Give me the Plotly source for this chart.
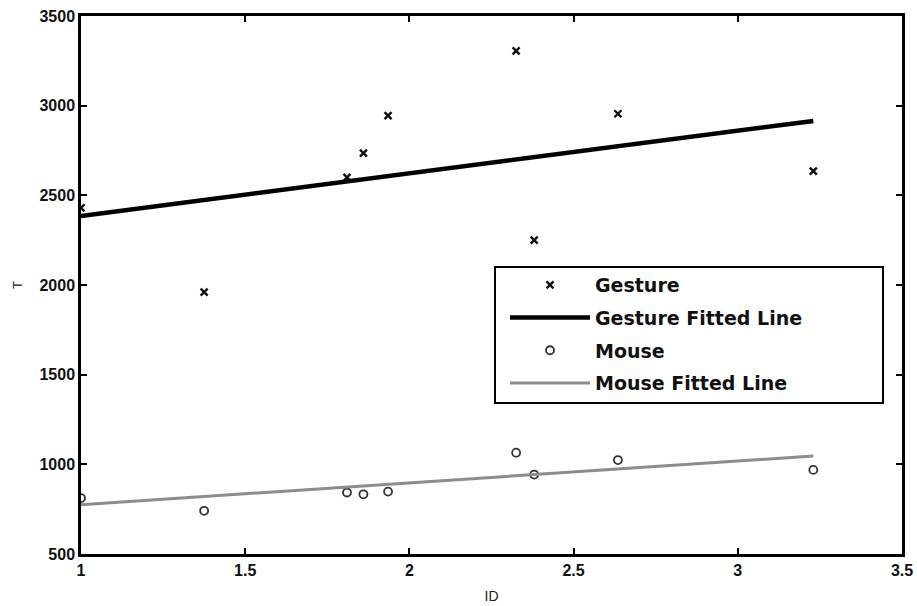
import plotly.graph_objects as go

# ---- data ----
ids = [1.0, 1.375, 1.81, 1.86, 1.935, 2.325, 2.38, 2.635, 3.23]
gesture_t = [2430, 1960, 2600, 2735, 2945, 3305, 2250, 2955, 2635]
mouse_t = [812, 741, 843, 833, 848, 1065, 943, 1024, 969]

fit_ids = [1.0, 3.23]
gesture_fit_t = [2385, 2915]
mouse_fit_t = [775, 1046]

x_ticks = [1, 1.5, 2, 2.5, 3, 3.5]
y_ticks = [500, 1000, 1500, 2000, 2500, 3000, 3500]

fig = go.Figure()
fig.add_trace(go.Scatter(
    x=ids, y=gesture_t, mode="markers", name="Gesture", legendgroup="a",
    marker=dict(symbol="x-thin", size=7, color="#111", line=dict(width=2.4, color="#111")),
))
fig.add_trace(go.Scatter(
    x=fit_ids, y=gesture_fit_t, mode="lines", name="Gesture Fitted Line", legendgroup="b",
    line=dict(color="#000", width=4.5),
))
fig.add_trace(go.Scatter(
    x=ids, y=mouse_t, mode="markers", name="Mouse", legendgroup="c",
    marker=dict(symbol="circle-open", size=8, color="#333", line=dict(width=1.8, color="#333")),
))
fig.add_trace(go.Scatter(
    x=fit_ids, y=mouse_fit_t, mode="lines", name="Mouse Fitted Line", legendgroup="d",
    line=dict(color="#8c8c8c", width=3),
))

W, H = 917, 606
L, R, T, B = 81, 902, 16, 554

def px(v):
    return (v - L) / (R - L)

def py(v):
    return (B - v) / (B - T)

axis_common = dict(
    showgrid=False, zeroline=False, showline=True, linecolor="#000", linewidth=2.5,
    mirror="ticks", ticks="inside", ticklen=6, tickwidth=2, tickcolor="#000",
    automargin=False, ticklabeloverflow="allow",
    tickfont=dict(family="Liberation Sans, Arial", size=16, color="#111", weight="bold"),
)

fig.update_layout(
    width=W, height=H,
    margin=dict(l=L, r=W - R, t=T, b=H - B, pad=0, autoexpand=False),
    paper_bgcolor="#ffffff", plot_bgcolor="#fefefe",
    showlegend=True,
    legend=dict(
        x=px(505), y=py(266), xanchor="left", yanchor="top",
        bgcolor="rgba(0,0,0,0)", borderwidth=0,
        traceorder="grouped", tracegroupgap=5, itemwidth=80,
        font=dict(family="DejaVu Sans", size=19, color="#111", weight="bold"),
    ),
    xaxis=dict(
        range=[1, 3.5], tickvals=x_ticks, ticktext=[str(v) for v in x_ticks],
        title=dict(text="ID", font=dict(family="Liberation Sans, Arial", size=14, color="#222"), standoff=14),
        **axis_common,
    ),
    yaxis=dict(
        range=[500, 3500], tickvals=y_ticks, ticktext=[str(v) for v in y_ticks],
        title=dict(text="T", font=dict(family="Liberation Sans, Arial", size=13, color="#222"), standoff=14),
        **axis_common,
    ),
    shapes=[dict(
        type="rect", xref="paper", yref="paper",
        x0=px(495), x1=px(883), y0=py(403), y1=py(267),
        line=dict(color="#000", width=2), fillcolor="#ffffff", layer="above",
    )],
)

fig.write_html(
    "out.html",
    config={"displayModeBar": False},
    post_script="document.body.style.margin='0';document.body.style.overflow='hidden';",
)
